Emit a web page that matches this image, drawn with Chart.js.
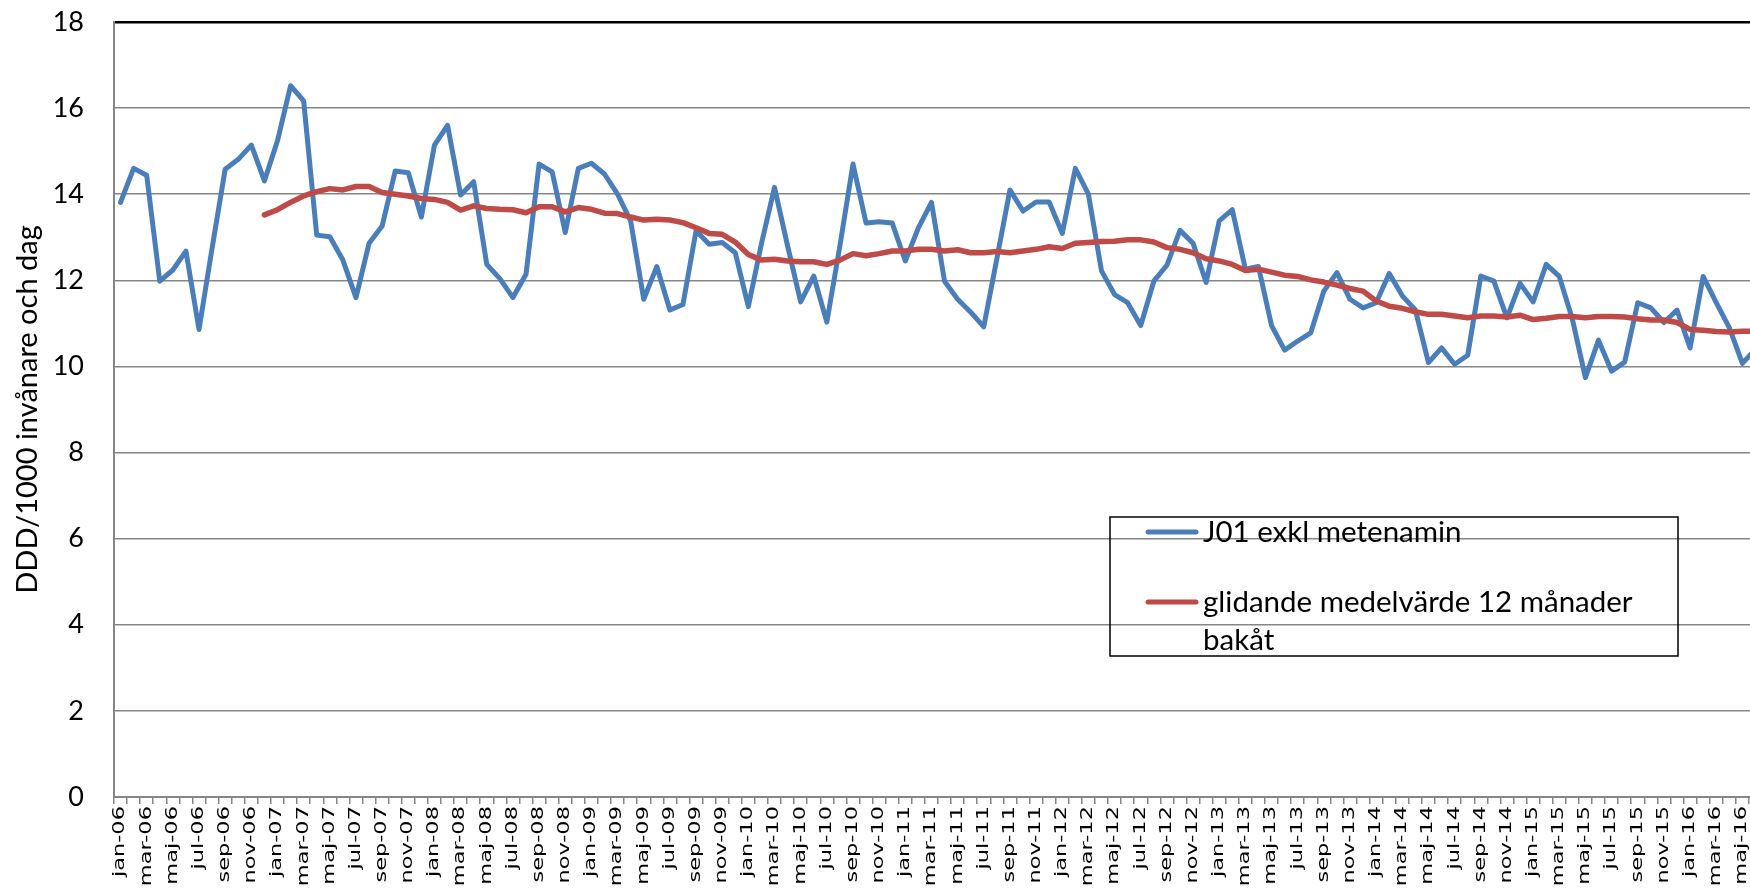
<!DOCTYPE html>
<html>
<head>
<meta charset="utf-8">
<script src="https://cdn.jsdelivr.net/npm/chart.js@4.4.1/dist/chart.umd.min.js"></script>
<style>
  html, body { margin: 0; padding: 0; overflow: hidden; background: #ffffff; width: 1750px; height: 890px; }
  #wrap { position: absolute; left: 0; top: 0; width: 1770px; height: 890px; }
  canvas { display: block; }
</style>
</head>
<body>
<div id="wrap"><canvas id="c" width="1770" height="890"></canvas></div>
<script>
// ---- categories ----
const monthNames = ['jan','feb','mar','apr','maj','jun','jul','aug','sep','okt','nov','dec'];
const years = ['06','07','08','09','10','11','12','13','14','15','16'];
const lastYearMonths = 6; // 2016: jan..jun

// ---- series: J01 exkl metenamin (DDD/1000 invånare och dag) ----
const j01 = [
  13.81, 14.60, 14.44, 11.98, 12.24, 12.68, 10.86, 12.75, 14.58, 14.81, 15.14, 14.31,
  15.24, 16.52, 16.17, 13.05, 13.01, 12.47, 11.60, 12.86, 13.26, 14.54, 14.50, 13.47,
  15.14, 15.60, 13.98, 14.29, 12.37, 12.04, 11.60, 12.14, 14.70, 14.52, 13.11, 14.60,
  14.72, 14.47, 14.00, 13.38, 11.56, 12.32, 11.31, 11.44, 13.15, 12.84, 12.88, 12.64,
  11.39, 12.85, 14.16, 12.80, 11.50, 12.10, 11.03, 12.80, 14.70, 13.33, 13.36, 13.33,
  12.45, 13.22, 13.81, 11.98, 11.56, 11.26, 10.92, 12.50, 14.10, 13.61, 13.82, 13.82,
  13.09, 14.60, 14.00, 12.22, 11.67, 11.48, 10.95, 11.98, 12.35, 13.16, 12.86, 11.95,
  13.38, 13.64, 12.26, 12.32, 10.95, 10.38, 10.59, 10.78, 11.75, 12.18, 11.56, 11.36,
  11.48, 12.16, 11.64, 11.31, 10.09, 10.43, 10.05, 10.26, 12.10, 11.98, 11.13, 11.93,
  11.50, 12.37, 12.09, 11.10, 9.74, 10.61, 9.89, 10.10, 11.48, 11.36, 11.02, 11.31,
  10.43, 12.09, 11.48, 10.90, 10.07, 10.40
];

// ---- series: glidande medelvärde 12 månader bakåt ----
const movingAvg = [
  null, null, null, null, null, null, null, null, null, null, null, 13.52,
  13.64, 13.81, 13.96, 14.06, 14.13, 14.10, 14.18, 14.18, 14.04, 14.00, 13.96, 13.90,
  13.88, 13.81, 13.63, 13.73, 13.67, 13.65, 13.64, 13.57, 13.71, 13.71, 13.59, 13.69,
  13.65, 13.56, 13.55, 13.47, 13.40, 13.42, 13.40, 13.34, 13.22, 13.09, 13.07, 12.89,
  12.60, 12.47, 12.49, 12.45, 12.43, 12.43, 12.37, 12.47, 12.62, 12.57, 12.62, 12.68,
  12.68, 12.72, 12.72, 12.68, 12.71, 12.64, 12.64, 12.67, 12.64, 12.68, 12.72, 12.78,
  12.74, 12.86, 12.88, 12.90, 12.91, 12.94, 12.94, 12.89, 12.76, 12.72, 12.64, 12.50,
  12.45, 12.37, 12.23, 12.26, 12.19, 12.12, 12.09, 12.01, 11.96, 11.89, 11.81, 11.75,
  11.52, 11.40, 11.35, 11.27, 11.21, 11.21, 11.17, 11.13, 11.17, 11.17, 11.15, 11.19,
  11.09, 11.12, 11.16, 11.16, 11.13, 11.16, 11.16, 11.15, 11.11, 11.08, 11.08, 11.02,
  10.86, 10.84, 10.81, 10.80, 10.82, 10.82
];

// ---- y ticks ----
const yMin = 0, yMax = 18, yStep = 2;

const seriesLabels = ['J01 exkl metenamin', 'glidande medelvärde 12 månader bakåt'];
const yTitle = 'DDD/1000 invånare och dag';

// build category labels
const categories = [];
years.forEach((y, yi) => {
  const n = (yi === years.length - 1) ? lastYearMonths : 12;
  for (let m = 0; m < n; m++) categories.push(monthNames[m] + '-' + y);
});

const GRID = '#868686';

function xLabelText(index) {
  return index % 2 === 0 ? categories[index] : '';
}

// Draws the x-axis category labels (rotated, reading bottom-to-top) at the scale's tick positions.
const xLabels = {
  id: 'xLabels',
  afterDraw(chart) {
    const scale = chart.scales.x;
    const ctx = chart.ctx;
    ctx.save();
    ctx.font = '15px "DejaVu Sans"';
    ctx.fillStyle = '#000000';
    ctx.textAlign = 'right';
    ctx.textBaseline = 'middle';
    const top = scale.top + 9;
    scale.ticks.forEach((t, i) => {
      const txt = xLabelText(i);
      if (!txt) return;
      const x = scale.getPixelForTick(i);
      ctx.save();
      ctx.translate(x, top);
      ctx.rotate(-Math.PI / 2);
      ctx.scale(1.5, 1);
      ctx.fillText(txt, 0, 0);
      ctx.restore();
    });
    ctx.restore();
  }
};

const legendBox = {
  id: 'legendBox',
  afterDraw(chart) {
    const ctx = chart.ctx;
    ctx.save();
    ctx.strokeStyle = '#000000';
    ctx.lineWidth = 1.5;
    ctx.strokeRect(1110, 517, 568, 139);
    ctx.font = '29.5px Lato';
    ctx.textBaseline = 'middle';
    ctx.textAlign = 'left';
    const rows = [532, 602];
    const textX = 1203, maxW = 1678 - textX - 6, lineH = 38;
    chart.data.datasets.forEach((ds, i) => {
      const y = rows[i];
      ctx.strokeStyle = ds.borderColor;
      ctx.lineWidth = 5;
      ctx.lineCap = 'round';
      ctx.beginPath(); ctx.moveTo(1148, y); ctx.lineTo(1196, y); ctx.stroke();
      ctx.fillStyle = '#000000';
      const words = ds.label.split(' ');
      let line = '', yy = y;
      for (const w of words) {
        const test = line ? line + ' ' + w : w;
        if (line && ctx.measureText(test).width > maxW) {
          ctx.fillText(line, textX, yy);
          line = w; yy += lineH;
        } else line = test;
      }
      ctx.fillText(line, textX, yy);
    });
    ctx.restore();
  }
};

new Chart(document.getElementById('c'), {
  type: 'line',
  data: {
    labels: categories,
    datasets: [
      {
        label: seriesLabels[0],
        data: j01,
        borderColor: '#4A7EBB',
        backgroundColor: '#4A7EBB',
        borderWidth: 5,
        pointRadius: 0,
        tension: 0,
        borderJoinStyle: 'round',
        borderCapStyle: 'round',
        order: 2
      },
      {
        label: seriesLabels[1],
        data: movingAvg,
        borderColor: '#BE4B48',
        backgroundColor: '#BE4B48',
        borderWidth: 5.5,
        pointRadius: 0,
        tension: 0,
        borderJoinStyle: 'round',
        borderCapStyle: 'round',
        spanGaps: false,
        order: 1
      }
    ]
  },
  options: {
    responsive: false,
    animation: false,
    events: [],
    layout: { padding: { top: 22, right: 8, left: 0, bottom: 0 } },
    plugins: {
      legend: { display: false },
      tooltip: { enabled: false },
      title: { display: false }
    },
    scales: {
      x: {
        type: 'category',
        offset: true,
        afterFit(scale) {
          scale.height = 93;
          scale.paddingLeft = 0; scale.paddingRight = 0;
          scale.paddingTop = 0; scale.paddingBottom = 0;
        },
        grid: {
          display: true,
          offset: true,
          drawOnChartArea: false,
          drawTicks: true,
          tickLength: 7,
          color: GRID,
          lineWidth: 1.5
        },
        border: { display: true, color: GRID, width: 2 },
        ticks: {
          display: false,
          autoSkip: false,
          callback(value, index) { return xLabelText(index); }
        }
      },
      y: {
        min: yMin,
        max: yMax,
        afterFit(scale) {
          scale.width = 114;
          scale.paddingTop = 0; scale.paddingBottom = 0;
          scale.paddingLeft = 0; scale.paddingRight = 0;
        },
        grid: {
          drawTicks: false,
          color: (ctx) => (ctx.tick && ctx.tick.value === yMax) ? '#000000' : GRID,
          lineWidth: (ctx) => (ctx.tick && ctx.tick.value === yMax) ? 2.5 : 1.5
        },
        border: { display: true, color: GRID, width: 2 },
        ticks: {
          stepSize: yStep,
          padding: 30,
          color: '#000000',
          font: { family: 'Lato', size: 27 }
        },
        title: {
          display: true,
          text: yTitle,
          color: '#000000',
          font: { family: 'Lato', size: 29 },
          padding: { top: 10, bottom: 0 }
        }
      }
    }
  },
  plugins: [xLabels, legendBox]
});
</script>
</body>
</html>
